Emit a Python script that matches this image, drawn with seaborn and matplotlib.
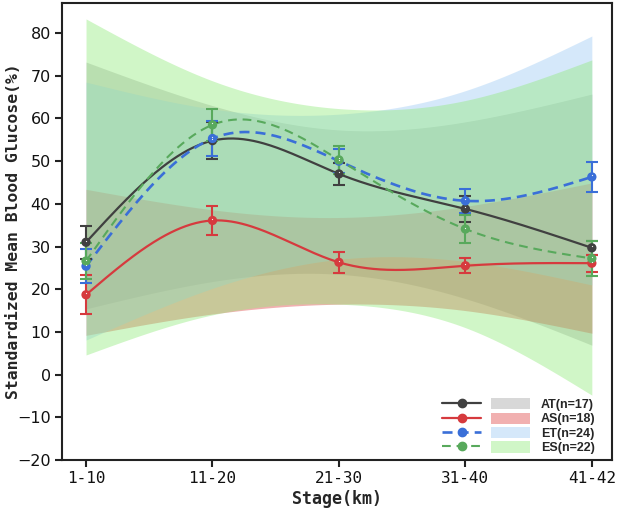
import numpy as np
import pandas as pd
import matplotlib
matplotlib.use("Agg")
import matplotlib.pyplot as plt
import seaborn as sns
from matplotlib.patches import Patch
from matplotlib.lines import Line2D
from matplotlib.legend_handler import HandlerTuple

# ---------------- data ----------------
stages = ["1-10", "11-20", "21-30", "31-40", "41-42"]
groups = ["AT", "AS", "ET", "ES"]
group_n = [17, 18, 24, 22]

at_mean = [31.0, 54.8, 47.0, 38.8, 29.7]
as_mean = [18.7, 36.1, 26.3, 25.5, 26.1]
et_mean = [25.4, 55.3, 50.0, 40.7, 46.3]
es_mean = [26.6, 58.5, 50.3, 34.1, 27.2]

at_err = [3.9, 4.3, 2.6, 3.0, 1.7]
as_err = [4.6, 3.5, 2.4, 1.8, 2.0]
et_err = [4.0, 4.2, 2.8, 2.8, 3.6]
es_err = [4.2, 3.8, 3.2, 3.2, 4.0]

# shaded band limits (upper / lower) read at each stage
at_hi = [73.2, 63.0, 57.3, 59.2, 65.7]
at_lo = [15.4, 21.8, 23.5, 17.8, 6.9]
as_hi = [43.4, 38.6, 36.8, 39.4, 44.9]
as_lo = [9.2, 14.2, 16.5, 15.0, 9.7]
et_hi = [68.5, 62.2, 61.0, 66.5, 79.3]
et_lo = [8.1, 20.2, 27.0, 26.5, 21.0]
es_hi = [83.3, 68.8, 62.3, 64.2, 73.7]
es_lo = [4.6, 14.0, 16.5, 11.0, -4.8]

means = {"AT": at_mean, "AS": as_mean, "ET": et_mean, "ES": es_mean}
errs = {"AT": at_err, "AS": as_err, "ET": et_err, "ES": es_err}
his = {"AT": at_hi, "AS": as_hi, "ET": et_hi, "ES": es_hi}
los = {"AT": at_lo, "AS": as_lo, "ET": et_lo, "ES": es_lo}

line_colors = {"AT": "#404040", "AS": "#d63a3e", "ET": "#3a6fd8", "ES": "#58a95c"}
band_colors = {"AT": "#a2a2a2", "AS": "#de4444", "ET": "#9dcaf4", "ES": "#90ea7a"}
dashes = {"AT": "", "AS": "", "ET": (3.8, 2.3), "ES": (4.2, 2.8)}
lwidths = {"AT": 1.6, "AS": 1.6, "ET": 1.9, "ES": 1.5}


def natural_spline(xs, ys, xf):
    xs = np.asarray(xs, float)
    ys = np.asarray(ys, float)
    n = len(xs)
    h = np.diff(xs)
    A = np.zeros((n, n))
    rhs = np.zeros(n)
    A[0, 0] = 1
    A[-1, -1] = 1
    for i in range(1, n - 1):
        A[i, i - 1] = h[i - 1]
        A[i, i] = 2 * (h[i - 1] + h[i])
        A[i, i + 1] = h[i]
        rhs[i] = 6 * ((ys[i + 1] - ys[i]) / h[i] - (ys[i] - ys[i - 1]) / h[i - 1])
    M = np.linalg.solve(A, rhs)
    idx = np.clip(np.searchsorted(xs, xf, side="right") - 1, 0, n - 2)
    x0, x1 = xs[idx], xs[idx + 1]
    hh = x1 - x0
    a = (x1 - xf) / hh
    b = (xf - x0) / hh
    return (a * ys[idx] + b * ys[idx + 1]
            + ((a ** 3 - a) * M[idx] + (b ** 3 - b) * M[idx + 1]) * hh ** 2 / 6)


# ---------------- figure ----------------
sns.set_style("ticks")
plt.rcParams["font.family"] = ["DejaVu Sans"]

fig = plt.figure(figsize=(6.17, 5.21), dpi=100)
ax = fig.add_axes([0.1005, 0.117, 0.8915, 0.877])

x = np.arange(len(stages))
xf = np.linspace(0, len(stages) - 1, 300)

# bands
for g in groups:
    hi = natural_spline(x, his[g], xf)
    lo = natural_spline(x, los[g], xf)
    ax.fill_between(xf, lo, hi, color=band_colors[g], alpha=0.42, lw=0, zorder=1)

# smooth curves via seaborn
curve_rows = []
for g in groups:
    yf = natural_spline(x, means[g], xf)
    curve_rows.append(pd.DataFrame({"x": xf, "y": yf, "group": g}))
curves = pd.concat(curve_rows, ignore_index=True)
sns.lineplot(data=curves, x="x", y="y", hue="group", style="group",
             palette=line_colors, dashes=dashes, sort=False, estimator=None,
             legend=False, ax=ax, zorder=4)
for ln, g in zip(ax.get_lines(), groups):
    ln.set_linewidth(lwidths[g])

# error bars and markers
pts = pd.DataFrame({
    "x": np.tile(x, len(groups)),
    "y": np.concatenate([means[g] for g in groups]),
    "group": np.repeat(groups, len(stages)),
})
for g in groups:
    ax.errorbar(x, means[g], yerr=errs[g], fmt="none", ecolor=line_colors[g],
                elinewidth=1.5, capsize=4.5, capthick=1.5, zorder=5)
sns.scatterplot(data=pts, x="x", y="y", hue="group", palette=line_colors,
                s=45, linewidth=0, edgecolor="none", legend=False, ax=ax, zorder=6)
ax.scatter(pts["x"], pts["y"] + 0.35, s=0.8, color="#f4f4f4", zorder=7, linewidths=0)

# axes styling
ax.set_xlim(-0.19, 4.16)
ax.set_ylim(-20, 87)
ax.set_yticks(np.arange(-20, 81, 10))
ax.set_xticks(x)
ax.set_xticklabels(stages, fontfamily="DejaVu Sans Mono", fontsize=11.5)
for lab in ax.get_yticklabels():
    lab.set_fontsize(11.5)
for s in ax.spines.values():
    s.set_visible(True)
    s.set_linewidth(1.5)
    s.set_color("#222222")
ax.tick_params(axis="both", direction="out", length=5, width=1.5, color="#222222",
               labelcolor="#111111", top=False, right=False, pad=3)
ax.set_xlabel("Stage(km)", fontfamily="DejaVu Sans Mono", fontsize=12,
              fontweight="bold", labelpad=3)
ax.set_ylabel("Standardized Mean Blood Glucose(%)", fontfamily="DejaVu Sans Mono",
              fontsize=11.8, fontweight="bold", labelpad=1)
ax.yaxis.set_label_coords(-0.075, 0.5)

# legend
handles = []
labels = []
for g, n in zip(groups, group_n):
    ln = Line2D([], [], color=line_colors[g], lw=lwidths[g], marker="o", markersize=6,
                linestyle="-" if dashes[g] == "" else (0, dashes[g]))
    pa = Patch(facecolor=band_colors[g], alpha=0.42, edgecolor="none")
    handles.append((ln, pa))
    labels.append(f"{g}(n={n})")
leg = ax.legend(handles, labels, loc="lower right", frameon=False,
                bbox_to_anchor=(0.985, -0.005),
                handler_map={tuple: HandlerTuple(ndivide=None, pad=0.8)},
                handlelength=7.0, handleheight=1.0, handletextpad=0.9,
                labelspacing=0.12, borderaxespad=0.25,
                prop={"family": ["Liberation Sans", "DejaVu Sans"],
                      "size": 9, "weight": "bold"})

fig.savefig("out.png", dpi=100)
